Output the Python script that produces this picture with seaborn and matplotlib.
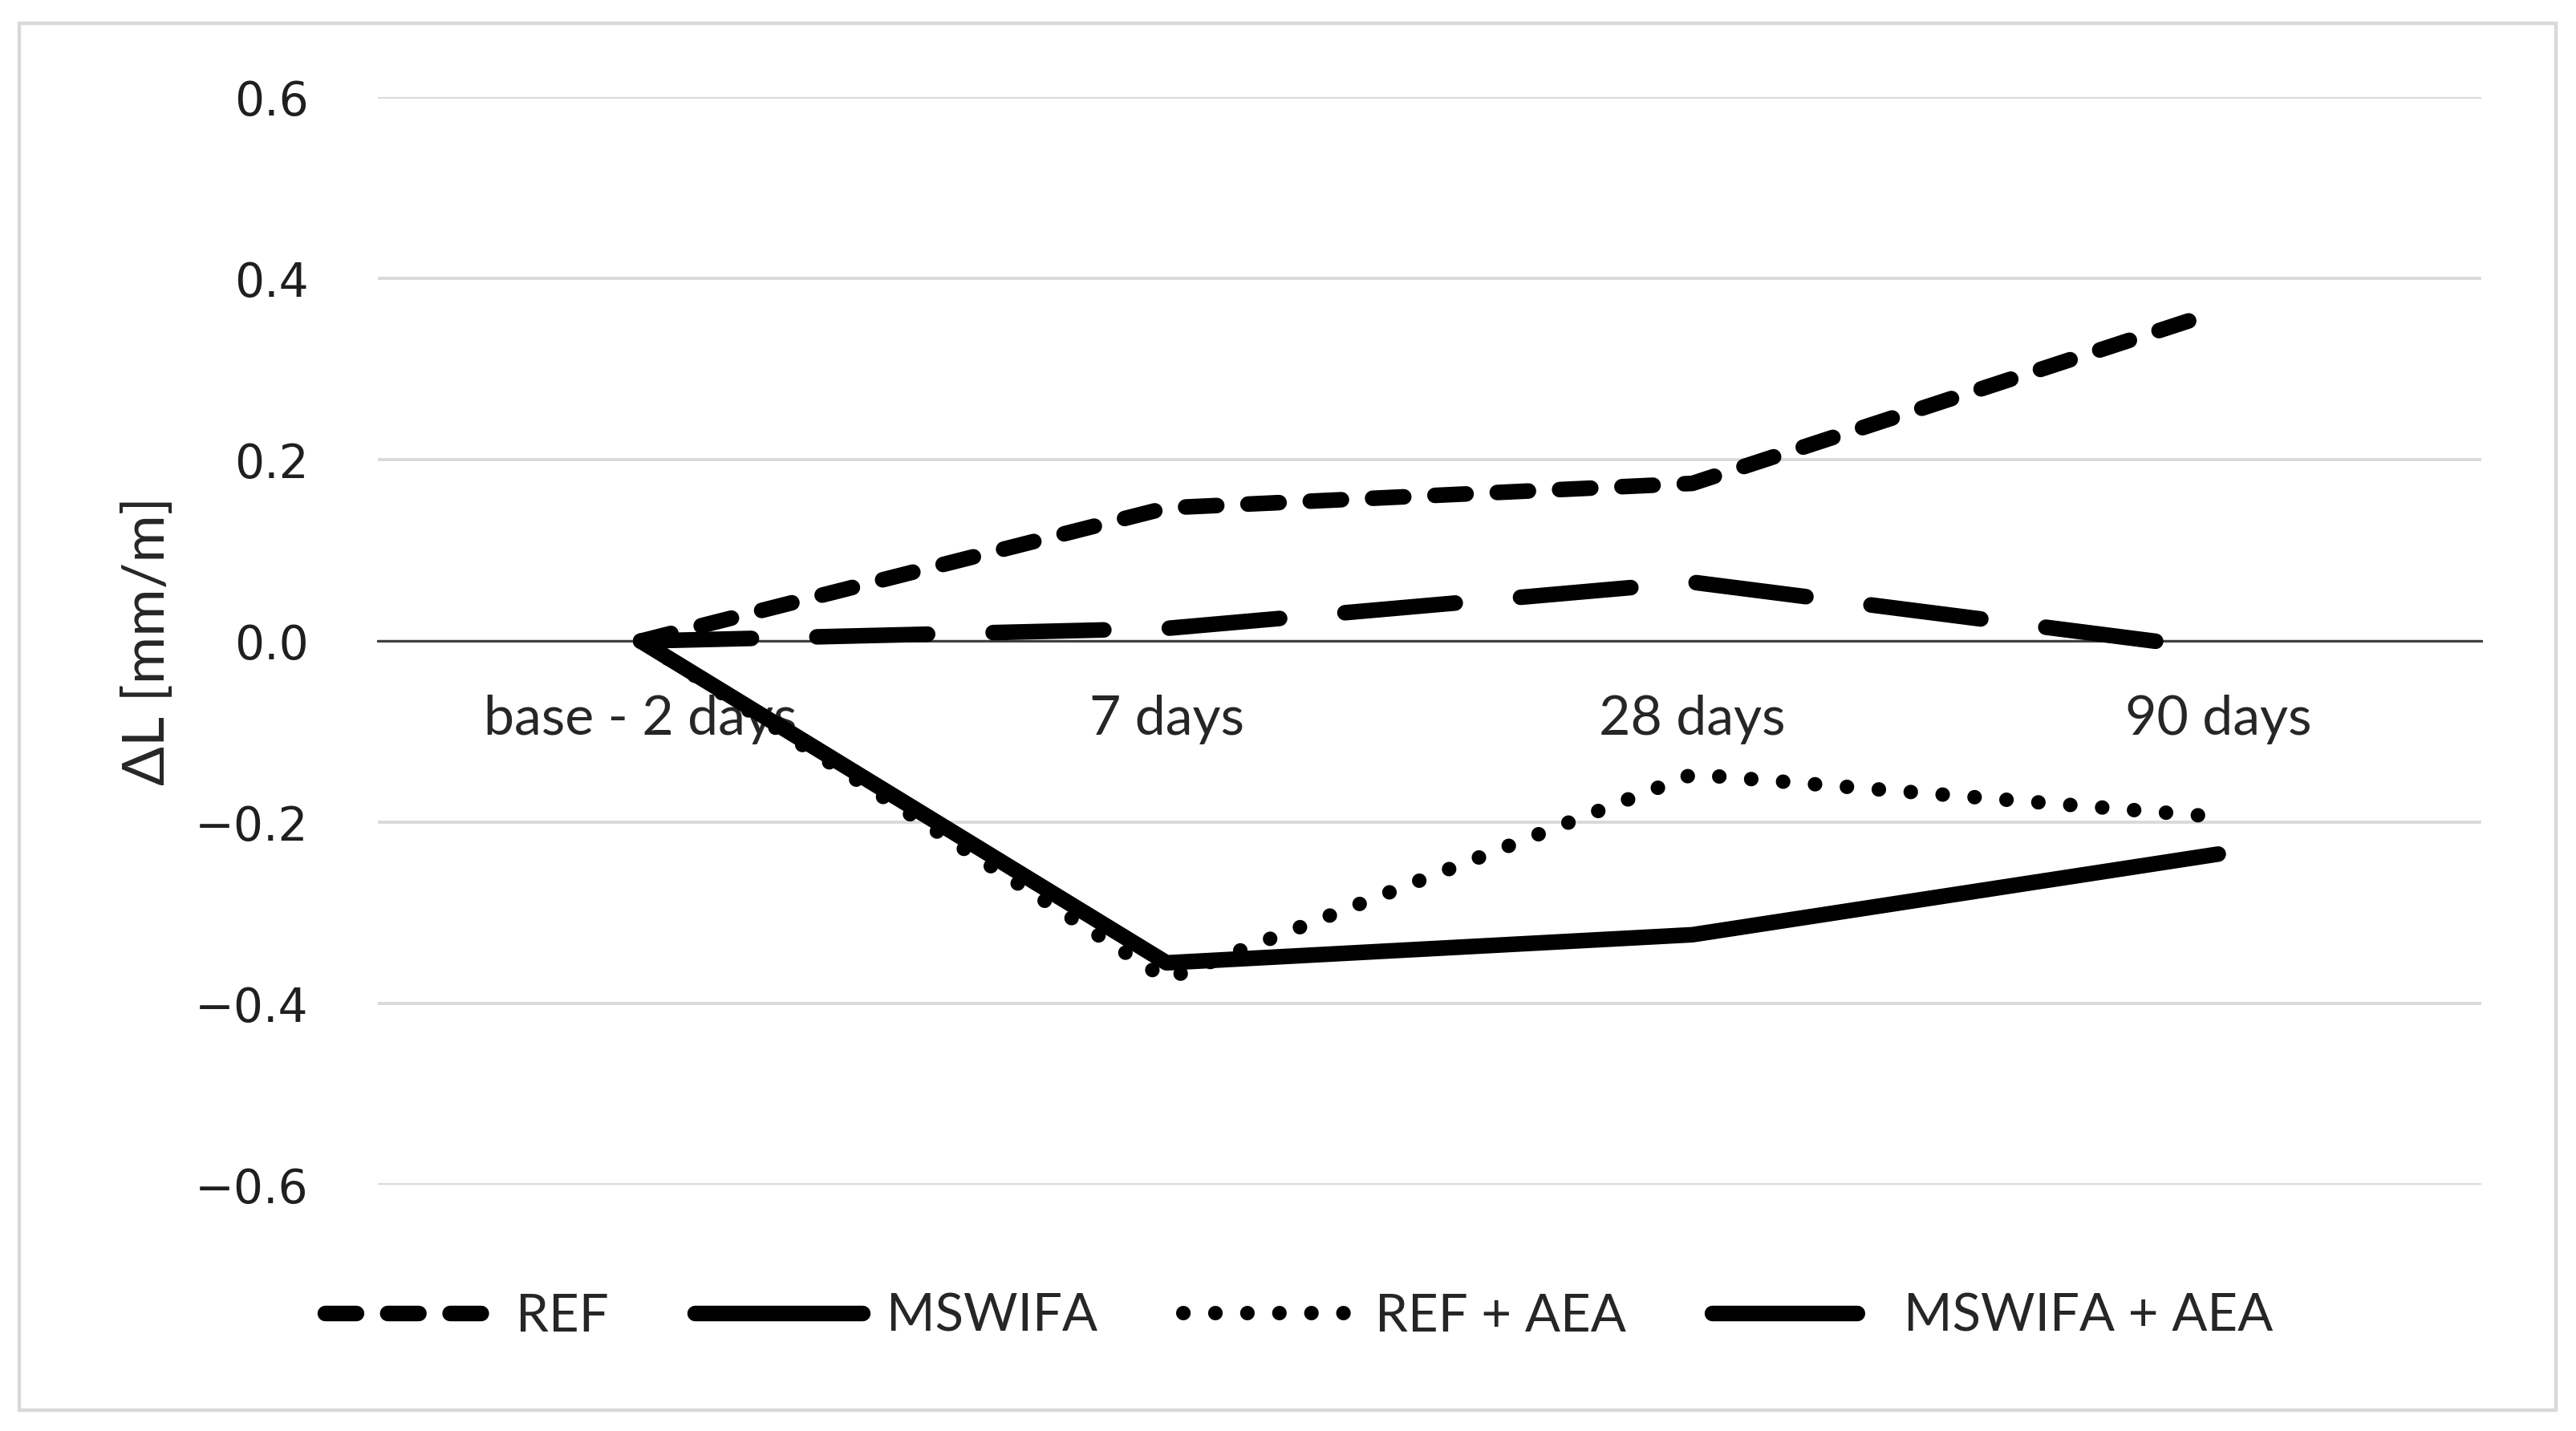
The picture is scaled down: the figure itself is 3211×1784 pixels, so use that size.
import matplotlib
matplotlib.use("Agg")
import matplotlib.pyplot as plt
import seaborn as sns
import pandas as pd
from matplotlib.patches import Rectangle
from matplotlib.lines import Line2D

categories = ["base - 2 days", "7 days", "28 days", "90 days"]
series_names = ["REF", "MSWIFA", "REF + AEA", "MSWIFA + AEA"]
ref_vals = [0.0, 0.147, 0.174, 0.364]
mswifa_vals = [0.0, -0.355, -0.324, -0.235]
ref_aea_vals = [0.0, -0.373, -0.147, -0.194]
mswifa_aea_vals = [0.0, 0.014, 0.065, -0.009]
y_ticks = [-0.6, -0.4, -0.2, 0.0, 0.2, 0.4, 0.6]

sns.set_theme(style="white")
plt.rcParams["font.family"] = ["DejaVu Sans"]

fig = plt.figure(figsize=(16.06, 8.92), dpi=200)
ax = fig.add_axes([0.1466, 0.172, 0.8163, 0.760])

styles = {
    "REF": dict(lw=7.0, ls=(0, (2.0, 2.0))),
    "MSWIFA": dict(lw=7.0, ls="-"),
    "REF + AEA": dict(lw=6.5, ls=(0, (0.01, 2.2))),
    "MSWIFA + AEA": dict(lw=7.0, ls=(0, (7.1, 4.2))),
}
legend_styles = dict(styles)
legend_styles["MSWIFA + AEA"] = dict(lw=7.0, ls=(0, (9.3, 20)))
values = [ref_vals, mswifa_vals, ref_aea_vals, mswifa_aea_vals]

for name, vals in zip(series_names, values):
    df = pd.DataFrame({"cat": categories, "val": vals})
    sns.lineplot(data=df, x="cat", y="val", ax=ax, color="black",
                 label=name, sort=False, legend=False)

for ln, name in zip(ax.lines, series_names):
    st = styles[name]
    ln.set_linewidth(st["lw"])
    ln.set_linestyle(st["ls"])
    ln.set_dash_capstyle("round")
    ln.set_solid_capstyle("round")
    ln.set_solid_joinstyle("round")
    ln.set_dash_joinstyle("round")
    ln.set_clip_on(False)

ax.set_xlim(-0.5, len(categories) - 0.5)
ax.set_ylim(-0.6, 0.6)
ax.set_yticks(y_ticks)
ax.set_yticklabels([f"{t:.1f}".replace("-", "\u2212") for t in y_ticks])
ax.yaxis.grid(True, color="#d9d9d9", linewidth=1.4)
ax.xaxis.grid(False)
ax.set_axisbelow(True)

for s in ["top", "right", "left"]:
    ax.spines[s].set_visible(False)
ax.spines["bottom"].set_position(("data", 0))
ax.spines["bottom"].set_color("#404040")
ax.spines["bottom"].set_linewidth(1.1)
ax.spines["bottom"].set_zorder(1.5)

ax.tick_params(axis="y", length=0, pad=31, labelsize=21, labelcolor="#1f1f1f")
ax.tick_params(axis="x", length=0, pad=24, labelcolor="#262626")
for lab in ax.get_xticklabels():
    lab.set_fontfamily("Lato")
    lab.set_fontsize(24.5)

ax.set_xlabel("")
ax.set_ylabel("\u0394L [mm/m]", fontsize=26, family=["Lato", "DejaVu Sans"], color="#262626")
ax.yaxis.set_label_coords(-0.097, 0.5)

handles = []
for name in series_names:
    st = legend_styles[name]
    h = Line2D([], [], color="black", linewidth=st["lw"], linestyle=st["ls"],
               dash_capstyle="round", solid_capstyle="round")
    handles.append(h)
fig.legend(handles, series_names, loc="center", bbox_to_anchor=(0.504, 0.080),
           ncol=4, frameon=False, handlelength=3.2, handletextpad=0.45,
           columnspacing=1.65, prop={"family": "Lato", "size": 23.5},
           labelcolor="#262626")

fig.patches.append(Rectangle((0.0075, 0.0146), 0.9844, 0.9691, transform=fig.transFigure,
                             fill=False, edgecolor="#d9d9d9", linewidth=1.6))

fig.savefig("out.png", dpi=200, facecolor="white")
